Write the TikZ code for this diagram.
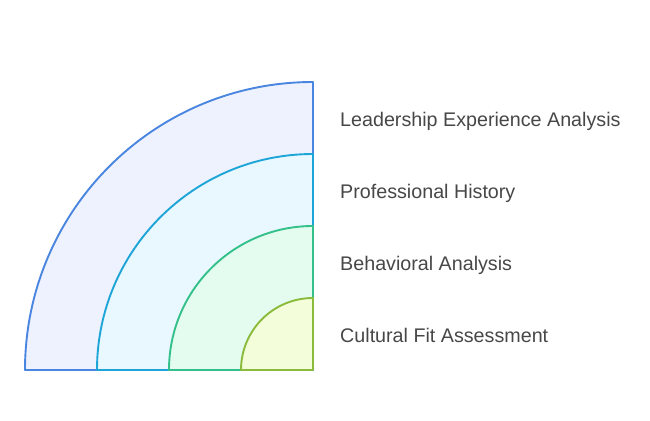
\documentclass[tikz,border=0pt]{standalone}
\usepackage{fontspec}
\setmainfont{Liberation Sans}
\definecolor{s1}{HTML}{4A86E0}\definecolor{f1}{HTML}{EDF2FE}
\definecolor{s2}{HTML}{1EA5D8}\definecolor{f2}{HTML}{E8F8FE}
\definecolor{s3}{HTML}{33C08A}\definecolor{f3}{HTML}{E3FCEF}
\definecolor{s4}{HTML}{8ABB3A}\definecolor{f4}{HTML}{F3FDD9}
\definecolor{txt}{HTML}{474747}
\begin{document}
\begin{tikzpicture}[x=1bp,y=1bp,
  band/.style={line width=1.9bp,line join=round},
  lbl/.style={anchor=base west,inner sep=0pt,text=txt,font=\fontsize{19.7bp}{22bp}\selectfont}]
\useasboundingbox (0,0) rectangle (650,420);
\coordinate (c) at (313,50);
\draw[band,draw=s1,fill=f1] (c) -- ++(-288,0) arc[start angle=180,end angle=90,radius=288] -- cycle;
\draw[band,draw=s2,fill=f2] (c) -- ++(-216,0) arc[start angle=180,end angle=90,radius=216] -- cycle;
\draw[band,draw=s3,fill=f3] (c) -- ++(-144,0) arc[start angle=180,end angle=90,radius=144] -- cycle;
\draw[band,draw=s4,fill=f4] (c) -- ++(-72,0) arc[start angle=180,end angle=90,radius=72] -- cycle;
\node[lbl] (l1) at (340,294) {Leadership Experience Analysis};
\node[lbl] (l2) at (340,222) {Professional History};
\node[lbl] (l3) at (340,150) {Behavioral Analysis};
\node[lbl] (l4) at (340,78) {Cultural Fit Assessment};
\end{tikzpicture}
\end{document}
